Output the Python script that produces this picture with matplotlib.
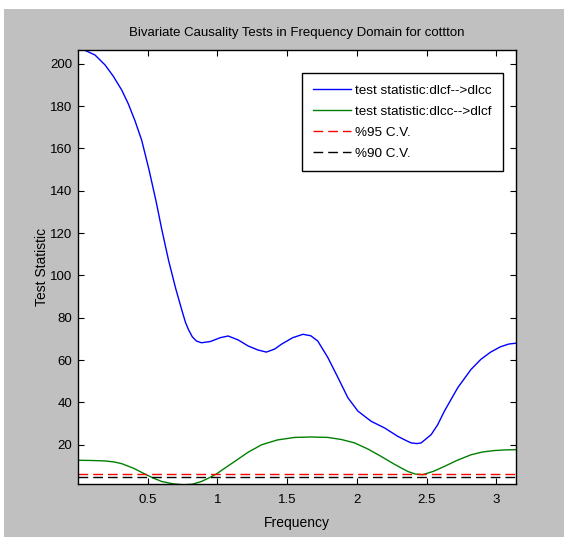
import numpy as np
import matplotlib
matplotlib.use('Agg')
import matplotlib.pyplot as plt
from matplotlib.patches import Rectangle

# Данные
freq_f2c = [0.0, 0.05, 0.122, 0.194, 0.254, 0.314, 0.361, 0.409, 0.457, 0.509,
            0.56, 0.6, 0.65, 0.70, 0.743, 0.77, 0.791, 0.82, 0.85, 0.886,
            0.95, 1.02, 1.077, 1.15, 1.22, 1.29, 1.351, 1.41, 1.459, 1.54,
            1.614, 1.67, 1.72, 1.793, 1.865, 1.936, 2.008, 2.103, 2.198, 2.294,
            2.36, 2.39, 2.43, 2.461, 2.533, 2.58, 2.628, 2.724, 2.819, 2.89,
            2.96, 3.03, 3.09, 3.1416]
stat_f2c = [206.7, 206.3, 204.1, 199.4, 194.0, 187.5, 181.0, 173.0, 163.8, 150.0,
            135.0, 122.0, 107.0, 94.0, 84.0, 78.0, 74.6, 71.0, 69.0, 68.2,
            68.8, 70.6, 71.4, 69.5, 66.7, 64.8, 63.8, 65.2, 67.5, 70.6,
            72.2, 71.5, 69.0, 61.1, 51.7, 42.2, 35.9, 31.1, 28.0, 24.0,
            21.8, 20.9, 20.6, 20.9, 24.8, 29.5, 35.9, 47.0, 55.6, 60.4,
            63.8, 66.3, 67.6, 68.0]

freq_c2f = [0.0, 0.1, 0.194, 0.26, 0.314, 0.4, 0.48, 0.54, 0.6, 0.68,
            0.755, 0.82, 0.886, 0.94, 0.994, 1.06, 1.125, 1.22, 1.316, 1.43,
            1.554, 1.67, 1.793, 1.89, 1.984, 2.08, 2.175, 2.27, 2.366, 2.42,
            2.473, 2.55, 2.628, 2.72, 2.819, 2.9, 2.986, 3.07, 3.1416]
stat_c2f = [12.7, 12.6, 12.4, 11.9, 11.1, 8.9, 6.2, 4.3, 2.7, 1.6,
            1.1, 1.4, 2.7, 4.4, 6.3, 9.3, 12.2, 16.5, 20.0, 22.3,
            23.5, 23.7, 23.5, 22.5, 20.9, 18.0, 14.5, 10.8, 7.4, 6.2,
            5.9, 7.5, 9.8, 12.7, 15.3, 16.6, 17.3, 17.6, 17.7]

cv95 = 5.99
cv90 = 4.61

labels = ['test statistic:dlcf-->dlcc', 'test statistic:dlcc-->dlcf',
          '%95 C.V.', '%90 C.V.']
x_ticks = [0.5, 1, 1.5, 2, 2.5, 3]
y_ticks = [20, 40, 60, 80, 100, 120, 140, 160, 180, 200]

plt.rcParams['font.family'] = ['Liberation Sans', 'DejaVu Sans']

fig = plt.figure(figsize=(5.64, 5.37), dpi=100)
fig.patch.set_facecolor('white')
# серый фон окна MATLAB
bg = Rectangle((4 / 564, 0), 1 - 4 / 564, 1 - 9 / 537,
               transform=fig.transFigure, facecolor='#c0c0c0',
               edgecolor='none')
bg.set_zorder(-10)
fig.add_artist(bg)

ax = fig.add_axes([78 / 564, 1 - 484 / 537, 438 / 564, 434.5 / 537])
ax.set_zorder(1)
ax.set_facecolor('white')

ax.plot(freq_f2c, stat_f2c, color='blue', lw=1.0, label=labels[0])
ax.plot(freq_c2f, stat_c2f, color='green', lw=1.0, label=labels[1])
ax.axhline(cv95, color='red', lw=1.0, ls=(0, (7, 3.6)), label=labels[2])
ax.axhline(cv90, color='black', lw=1.0, ls=(0, (7, 3.6)), label=labels[3])

ax.set_xlim(0, np.pi)
ax.set_ylim(1.5, 206.7)
ax.set_xticks(x_ticks)
ax.set_xticklabels([f'{t:g}' for t in x_ticks])
ax.set_yticks(y_ticks)
ax.tick_params(direction='in', length=4, width=0.8, top=True, right=True,
               labelsize=9.5)
ax.tick_params(axis='x', pad=7)
ax.tick_params(axis='y', pad=4)
for s in ax.spines.values():
    s.set_linewidth(1.0)

ax.set_title('Bivariate Causality Tests in Frequency Domain for cottton',
             fontsize=9.5, pad=10)
ax.set_xlabel('Frequency', fontsize=10, labelpad=7.5)
ax.set_ylabel('Test Statistic', fontsize=10, labelpad=1)

leg = ax.legend(loc='upper right', bbox_to_anchor=(0.970, 0.946),
                borderaxespad=0, fontsize=9.7, handlelength=2.8,
                handletextpad=0.3, labelspacing=0.64, fancybox=False,
                framealpha=1, edgecolor='black', borderpad=0.85)
leg.get_frame().set_linewidth(1.0)

plt.savefig('out.png', dpi=100)
plt.close()
